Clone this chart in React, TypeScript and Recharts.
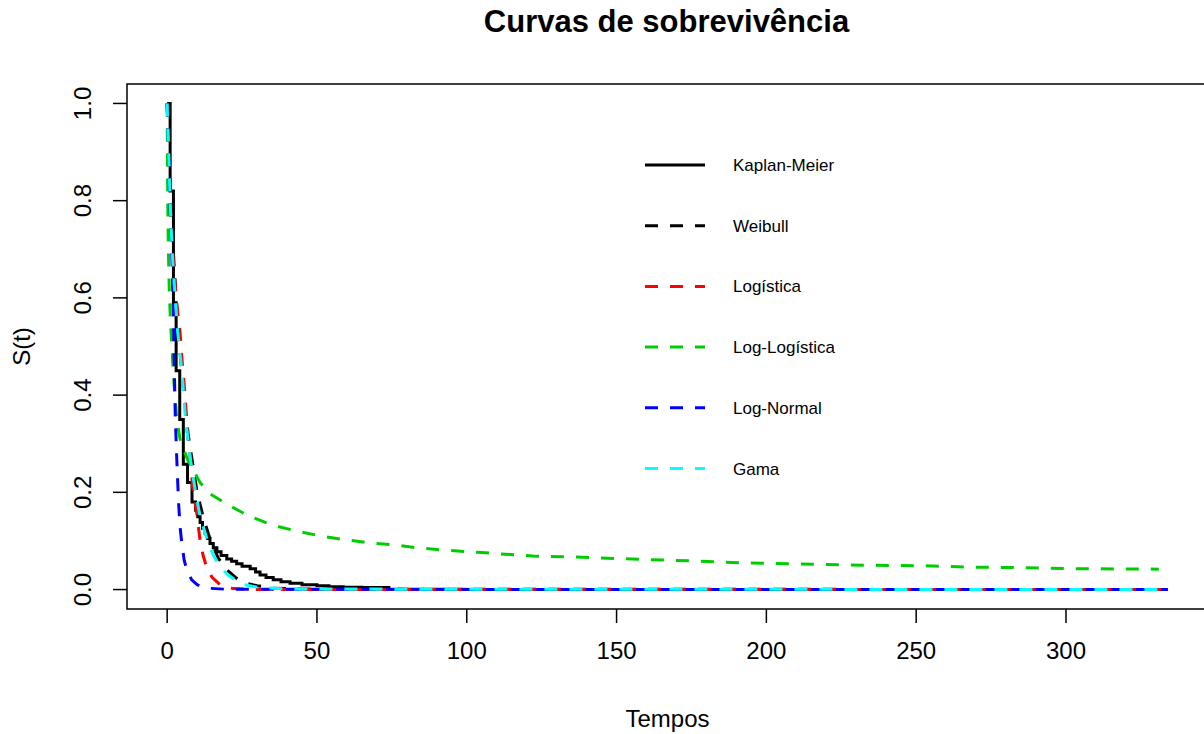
import { LineChart, Line, XAxis, YAxis, ReferenceArea, Legend } from 'recharts'

// Kaplan-Meier (estimativa empírica)
const kmTempo = [0, 1, 2.1, 3, 4.2, 5.4, 6.8, 8.3, 9.5, 10.2, 11, 11.8, 12.7, 13.5, 14.3, 15.4, 16.6, 18, 19.9, 21.5, 23.2, 25, 27.7, 29.5, 31, 33, 35.4, 38, 41, 45, 50, 54, 58.8, 65, 74.5]
const kmS = [1.0, 0.82, 0.59, 0.45, 0.35, 0.258, 0.22, 0.18, 0.163, 0.15, 0.138, 0.126, 0.115, 0.105, 0.095, 0.086, 0.078, 0.07, 0.063, 0.058, 0.053, 0.048, 0.043, 0.036, 0.03, 0.025, 0.02, 0.016, 0.013, 0.01, 0.008, 0.006, 0.005, 0.004, 0.004]

// modelos ajustados
const weibullTempo = [0, 0.5, 1, 2, 3, 4, 5, 6, 7, 8, 10, 12, 14, 17, 20, 23, 27, 30, 35, 45, 334]
const weibullS = [1, 0.92, 0.84, 0.7, 0.6, 0.51, 0.44, 0.38, 0.32, 0.28, 0.2, 0.15, 0.11, 0.065, 0.04, 0.024, 0.012, 0.008, 0.003, 0.001, 0]

const logisticaTempo = [0, 1, 2, 3, 4.3, 5, 6, 6.6, 7.7, 8.5, 9.9, 11, 12, 13.2, 15, 18, 22, 30, 334]
const logisticaS = [1, 0.8, 0.68, 0.6, 0.53, 0.47, 0.4, 0.33, 0.27, 0.21, 0.156, 0.1, 0.07, 0.046, 0.025, 0.008, 0.002, 0, 0]

const logLogTempo = [0, 0.1, 0.2, 0.4, 0.7, 1.1, 1.6, 2.1, 3.2, 4.3, 5.4, 7, 8.8, 11, 14.3, 19.9, 27, 35, 42.7, 50.5, 58.9, 67.3, 75.6, 83.4, 91, 105, 122, 141, 158, 175, 192, 209, 234, 252, 269, 285, 302, 331]
const logLogS = [1, 0.9, 0.8, 0.7, 0.62, 0.55, 0.5, 0.44, 0.35, 0.31, 0.29, 0.265, 0.245, 0.22, 0.197, 0.176, 0.152, 0.133, 0.121, 0.111, 0.103, 0.096, 0.092, 0.086, 0.082, 0.076, 0.069, 0.066, 0.062, 0.059, 0.055, 0.053, 0.05, 0.049, 0.046, 0.045, 0.043, 0.042]

const logNormalTempo = [0, 0.3, 0.7, 1.2, 1.7, 2.1, 2.4, 2.7, 3.2, 3.8, 4.3, 4.9, 5.7, 6.6, 8.2, 10, 13, 20, 334]
const logNormalS = [1, 0.95, 0.85, 0.75, 0.66, 0.56, 0.45, 0.36, 0.27, 0.18, 0.13, 0.094, 0.06, 0.04, 0.02, 0.01, 0.003, 0.0005, 0]

const gamaTempo = [0, 0.5, 1, 1.5, 2, 2.7, 3.5, 4.9, 6, 7.1, 8.2, 9.5, 11, 12.5, 13.8, 15.5, 17.7, 20, 23, 26, 30, 40, 334]
const gamaS = [1, 0.9, 0.8, 0.72, 0.66, 0.6, 0.53, 0.45, 0.36, 0.3, 0.25, 0.2, 0.15, 0.12, 0.094, 0.07, 0.046, 0.032, 0.018, 0.01, 0.005, 0.001, 0]

const xTicks = [0, 50, 100, 150, 200, 250, 300]
const yTicks = [0, 0.2, 0.4, 0.6, 0.8, 1.0]

const toPoints = (tempo: number[], s: number[]) => tempo.map((t, i) => ({ t, s: s[i] }))

const series = [
  { key: 'km', label: 'Kaplan-Meier', color: '#000000', dashed: false, data: toPoints(kmTempo, kmS) },
  { key: 'weibull', label: 'Weibull', color: '#000000', dashed: true, data: toPoints(weibullTempo, weibullS) },
  { key: 'logistica', label: 'Logística', color: '#ff0000', dashed: true, data: toPoints(logisticaTempo, logisticaS) },
  { key: 'loglog', label: 'Log-Logística', color: '#00cd00', dashed: true, data: toPoints(logLogTempo, logLogS) },
  { key: 'lognormal', label: 'Log-Normal', color: '#0000ff', dashed: true, data: toPoints(logNormalTempo, logNormalS) },
  { key: 'gama', label: 'Gama', color: '#00ffff', dashed: true, data: toPoints(gamaTempo, gamaS) },
]

const FONT = '"Liberation Sans", Arial, sans-serif'
const DASH = '13 12'

const XTick = (props: any) => {
  const { x, y, payload } = props
  return (
    <text x={x} y={y} dy={34} textAnchor="middle" fontSize={24} fontFamily={FONT} fill="#000">
      {payload.value}
    </text>
  )
}

const YTick = (props: any) => {
  const { y, payload } = props
  return (
    <text x={91} y={y} textAnchor="middle" fontSize={24} fontFamily={FONT} fill="#000" transform={`rotate(-90, 91, ${y})`}>
      {Number(payload.value).toFixed(1)}
    </text>
  )
}

const XTitle = (props: any) => {
  const { viewBox } = props
  const cx = viewBox.x + viewBox.width / 2
  return (
    <text x={cx} y={727} textAnchor="middle" fontSize={24} fontFamily={FONT} fill="#000">
      Tempos
    </text>
  )
}

const YTitle = (props: any) => {
  const { viewBox } = props
  const cy = viewBox.y + viewBox.height / 2
  return (
    <text x={30} y={cy} textAnchor="middle" fontSize={24} fontFamily={FONT} fill="#000" transform={`rotate(-90, 30, ${cy})`}>
      S(t)
    </text>
  )
}

const renderLegend = () => (
  <svg width={260} height={360} style={{ display: 'block' }}>
    {series.map((s, i) => {
      const y = 25 + i * 60.7
      return (
        <g key={s.key}>
          <line x1={5} x2={65} y1={y} y2={y} stroke={s.color} strokeWidth={3} strokeDasharray={s.dashed ? DASH : undefined} />
          <text x={93} y={y + 6} fontSize={17} fontFamily={FONT} fill="#000">
            {s.label}
          </text>
        </g>
      )
    })}
  </svg>
)

export default function App() {
  return (
    <div style={{ position: 'absolute', left: 0, top: 0, width: 1204, height: 734, overflow: 'hidden', background: '#fff' }}>
      <div
        style={{
          position: 'absolute',
          left: 0,
          top: 4,
          width: 1333,
          textAlign: 'center',
          fontFamily: FONT,
          fontWeight: 'bold',
          fontSize: 31,
          color: '#000',
        }}
      >
        Curvas de sobrevivência
      </div>
      <LineChart width={1212} height={734} margin={{ top: 84, right: 4, bottom: 0, left: 0 }}>
        <XAxis
          dataKey="t"
          type="number"
          domain={[-13.4, 347.4]}
          ticks={xTicks}
          allowDataOverflow
          axisLine={false}
          tickSize={14}
          tickLine={{ stroke: '#000', strokeWidth: 1.5 }}
          tick={<XTick />}
          height={125}
          label={<XTitle />}
        />
        <YAxis
          dataKey="s"
          type="number"
          domain={[-0.04, 1.04]}
          ticks={yTicks}
          allowDataOverflow
          axisLine={false}
          tickSize={14}
          tickLine={{ stroke: '#000', strokeWidth: 1.5 }}
          tick={<YTick />}
          width={127}
          label={<YTitle />}
        />
        <ReferenceArea x1={-13.4} x2={347.4} y1={-0.04} y2={1.04} fill="none" stroke="#000" strokeWidth={1.5} ifOverflow="visible" />
        <Legend
          layout="vertical"
          align="center"
          verticalAlign="middle"
          content={renderLegend}
          wrapperStyle={{ position: 'absolute', left: 640, top: 140, width: 260, height: 360 }}
        />
        {series.map((s) => (
          <Line
            key={s.key}
            data={s.data}
            dataKey="s"
            name={s.label}
            type={s.dashed ? 'linear' : 'stepAfter'}
            stroke={s.color}
            strokeWidth={3}
            strokeDasharray={s.dashed ? DASH : undefined}
            dot={false}
            activeDot={false}
            isAnimationActive={false}
          />
        ))}
      </LineChart>
    </div>
  )
}
